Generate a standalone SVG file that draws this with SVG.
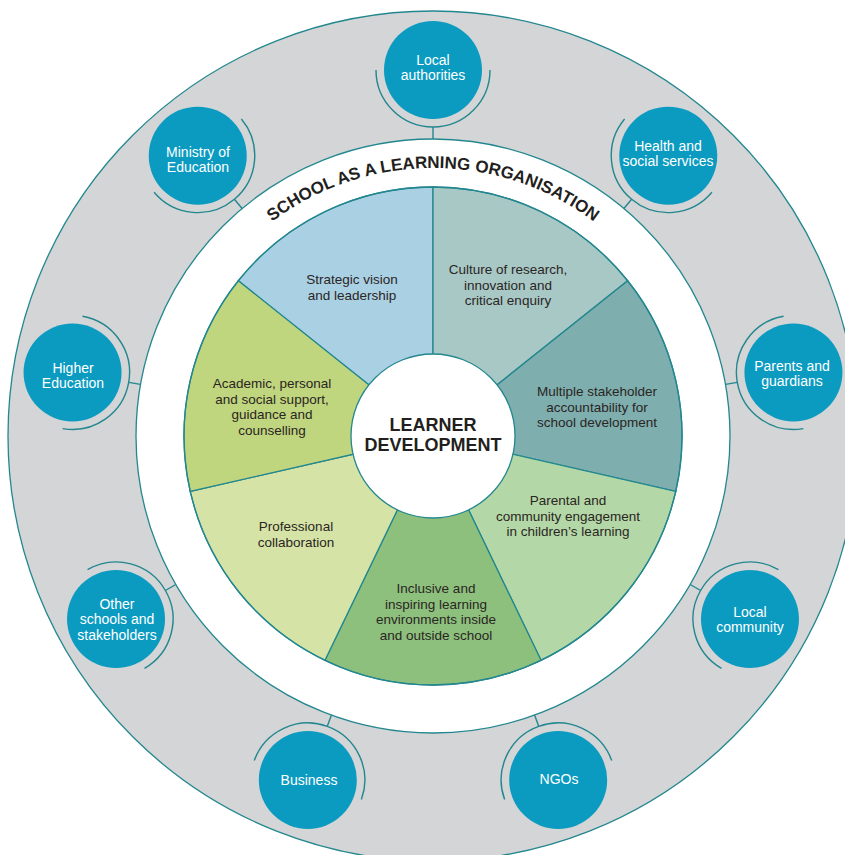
<svg xmlns="http://www.w3.org/2000/svg" xmlns:xlink="http://www.w3.org/1999/xlink" width="845" height="855" viewBox="0 0 845 855">
<style>
.ring{stroke:#23878f;stroke-width:1.3}
.seg{stroke:#23878f;stroke-width:1.3}
.node{fill:#0b9bc1}
.arc{fill:none;stroke:#23878f;stroke-width:1.4}
.conn{stroke:#23878f;stroke-width:1.4}
.nl{font-family:"Liberation Sans",Arial,sans-serif;font-size:14px;fill:#ffffff;text-anchor:middle}
.pl{font-family:"Liberation Sans",Arial,sans-serif;font-size:13.5px;fill:#2b2523;text-anchor:middle}
.ctr{font-family:"Liberation Sans",Arial,sans-serif;font-size:18px;font-weight:bold;fill:#231f20;text-anchor:middle}
.title{font-family:"Liberation Sans",Arial,sans-serif;font-size:17px;font-weight:bold;fill:#231f20}
</style>
<defs>
<path id="titlePath" d="M165,436 A268,268 0 0 1 701,436"/>
</defs>
<rect width="845" height="855" fill="#ffffff"/>
<g id="background">
<circle cx="433" cy="436" r="425" fill="#d3d5d6" class="ring"/>
<circle cx="433" cy="436" r="297" fill="#ffffff" class="ring"/>
</g>
<g id="title">
<text class="title"><textPath xlink:href="#titlePath" href="#titlePath" startOffset="50%" text-anchor="middle">SCHOOL AS A LEARNING ORGANISATION</textPath></text>
</g>
<g id="seg-strategic">
<path class="seg" fill="#aad0e4" d="M433,436 L238.32,280.75 A249,249 0 0 1 433,187 Z"/>
<text class="pl" x="352" y="284">Strategic vision</text>
<text class="pl" x="352" y="299.5">and leadership</text>
</g>
<g id="seg-culture">
<path class="seg" fill="#a8c8c6" d="M433,436 L433,187 A249,249 0 0 1 627.68,280.75 Z"/>
<text class="pl" x="508" y="274">Culture of research,</text>
<text class="pl" x="508" y="289.5">innovation and</text>
<text class="pl" x="508" y="305">critical enquiry</text>
</g>
<g id="seg-multiple">
<path class="seg" fill="#7eaeae" d="M433,436 L627.68,280.75 A249,249 0 0 1 675.76,491.41 Z"/>
<text class="pl" x="597" y="396">Multiple stakeholder</text>
<text class="pl" x="597" y="411.5">accountability for</text>
<text class="pl" x="597" y="427">school development</text>
</g>
<g id="seg-parental">
<path class="seg" fill="#b3d7a6" d="M433,436 L675.76,491.41 A249,249 0 0 1 541.04,660.34 Z"/>
<text class="pl" x="568" y="505">Parental and</text>
<text class="pl" x="568" y="520.5">community engagement</text>
<text class="pl" x="568" y="536">in children’s learning</text>
</g>
<g id="seg-inclusive">
<path class="seg" fill="#8dc07d" d="M433,436 L541.04,660.34 A249,249 0 0 1 324.96,660.34 Z"/>
<text class="pl" x="436" y="593">Inclusive and</text>
<text class="pl" x="436" y="608.5">inspiring learning</text>
<text class="pl" x="436" y="624">environments inside</text>
<text class="pl" x="436" y="639.5">and outside school</text>
</g>
<g id="seg-professional">
<path class="seg" fill="#d5e4a6" d="M433,436 L324.96,660.34 A249,249 0 0 1 190.24,491.41 Z"/>
<text class="pl" x="296" y="531">Professional</text>
<text class="pl" x="296" y="546.5">collaboration</text>
</g>
<g id="seg-academic">
<path class="seg" fill="#bfd57e" d="M433,436 L190.24,491.41 A249,249 0 0 1 238.32,280.75 Z"/>
<text class="pl" x="272" y="388">Academic, personal</text>
<text class="pl" x="272" y="403.5">and social support,</text>
<text class="pl" x="272" y="419">guidance and</text>
<text class="pl" x="272" y="434.5">counselling</text>
</g>
<g id="learner-development">
<circle cx="433" cy="436" r="249" fill="none" class="ring"/>
<circle cx="433" cy="436" r="82" fill="#ffffff" class="ring"/>
<text class="ctr" x="433" y="431">LEARNER</text>
<text class="ctr" x="433" y="451">DEVELOPMENT</text>
</g>
<g id="connectors">
<line class="conn" x1="433" y1="127" x2="433" y2="139"/>
<line class="conn" x1="631.62" y1="199.29" x2="623.91" y2="208.49"/>
<line class="conn" x1="737.31" y1="382.34" x2="725.49" y2="384.43"/>
<line class="conn" x1="700.6" y1="590.5" x2="690.21" y2="584.5"/>
<line class="conn" x1="538.68" y1="726.36" x2="534.58" y2="715.09"/>
<line class="conn" x1="327.32" y1="726.36" x2="331.42" y2="715.09"/>
<line class="conn" x1="165.4" y1="590.5" x2="175.79" y2="584.5"/>
<line class="conn" x1="128.69" y1="382.34" x2="140.51" y2="384.43"/>
<line class="conn" x1="234.38" y1="199.29" x2="242.09" y2="208.49"/>
</g>
<g id="node-local-authorities">
<path class="arc" d="M490,70 A57,57 0 0 1 433,127 A57,57 0 0 1 376,70"/>
<circle class="node" cx="433" cy="70" r="49"/>
<text class="nl" x="433" y="64.5">Local</text>
<text class="nl" x="433" y="80">authorities</text>
</g>
<g id="node-health">
<path class="arc" d="M711.92,192.27 A57,57 0 0 1 631.62,199.29 A57,57 0 0 1 624.6,118.99"/>
<circle class="node" cx="668.26" cy="155.63" r="49"/>
<text class="nl" x="668" y="150.5">Health and</text>
<text class="nl" x="668" y="166">social services</text>
</g>
<g id="node-parents">
<path class="arc" d="M803.34,428.57 A57,57 0 0 1 737.31,382.34 A57,57 0 0 1 783.54,316.31"/>
<circle class="node" cx="793.44" cy="372.44" r="49"/>
<text class="nl" x="792" y="370.5">Parents and</text>
<text class="nl" x="792" y="386">guardians</text>
</g>
<g id="node-local-community">
<path class="arc" d="M721.47,668.36 A57,57 0 0 1 700.6,590.5 A57,57 0 0 1 778.47,569.64"/>
<circle class="node" cx="749.97" cy="619" r="49"/>
<text class="nl" x="750" y="616.5">Local</text>
<text class="nl" x="750" y="632">community</text>
</g>
<g id="node-ngos">
<path class="arc" d="M504.62,799.43 A57,57 0 0 1 538.68,726.37 A57,57 0 0 1 611.74,760.43"/>
<circle class="node" cx="558.18" cy="779.93" r="49"/>
<text class="nl" x="559" y="784">NGOs</text>
</g>
<g id="node-business">
<path class="arc" d="M254.26,760.43 A57,57 0 0 1 327.32,726.37 A57,57 0 0 1 361.38,799.43"/>
<circle class="node" cx="307.82" cy="779.93" r="49"/>
<text class="nl" x="309" y="785">Business</text>
</g>
<g id="node-other-schools">
<path class="arc" d="M87.53,569.64 A57,57 0 0 1 165.39,590.5 A57,57 0 0 1 144.53,668.36"/>
<circle class="node" cx="116.03" cy="619" r="49"/>
<text class="nl" x="117" y="608.5">Other</text>
<text class="nl" x="117" y="624">schools and</text>
<text class="nl" x="117" y="639.5">stakeholders</text>
</g>
<g id="node-higher-education">
<path class="arc" d="M82.46,316.31 A57,57 0 0 1 128.69,382.34 A57,57 0 0 1 62.66,428.57"/>
<circle class="node" cx="72.56" cy="372.44" r="49"/>
<text class="nl" x="73" y="372.5">Higher</text>
<text class="nl" x="73" y="388">Education</text>
</g>
<g id="node-ministry">
<path class="arc" d="M241.4,118.99 A57,57 0 0 1 234.38,199.29 A57,57 0 0 1 154.08,192.27"/>
<circle class="node" cx="197.74" cy="155.63" r="49"/>
<text class="nl" x="198" y="156.5">Ministry of</text>
<text class="nl" x="198" y="172">Education</text>
</g>
</svg>
